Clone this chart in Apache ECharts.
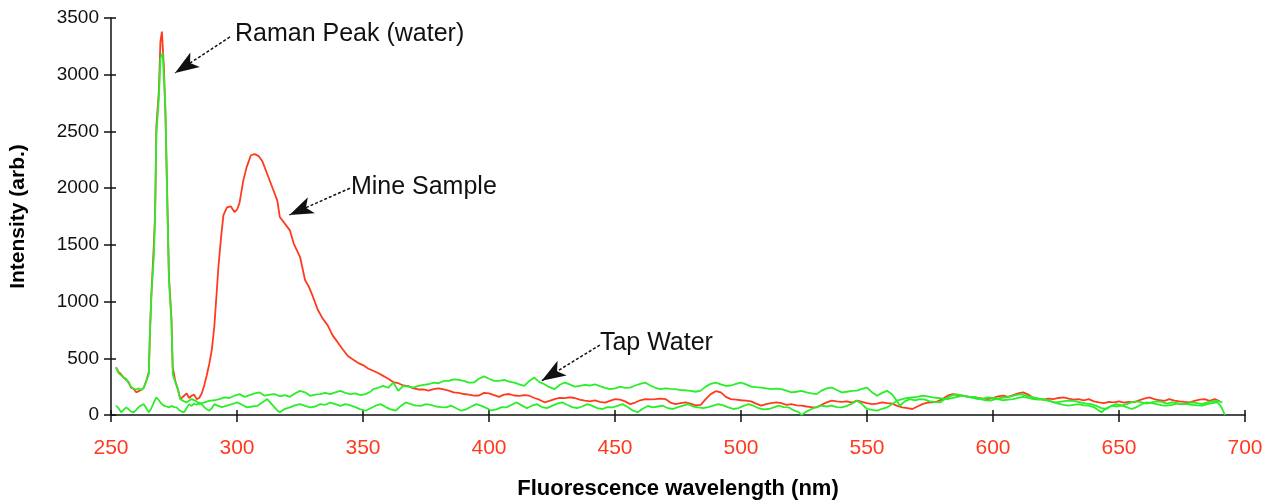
<!DOCTYPE html>
<html>
<head>
<meta charset="utf-8">
<script src="https://cdn.jsdelivr.net/npm/echarts@6/dist/echarts.min.js"></script>
<style>
  html, body { margin: 0; padding: 0; background: #fff; }
  #chart { width: 1271px; height: 502px; }
</style>
</head>
<body>
<div id="chart"></div>
<script>
// axis ticks
const xTicks = [250, 300, 350, 400, 450, 500, 550, 600, 650, 700]
const yTicks = [0, 500, 1000, 1500, 2000, 2500, 3000, 3500]

// mine sample (red)
const mineNm = [252, 253, 254, 255, 256, 257, 258, 259, 260, 261, 262, 263, 264, 265, 265.5, 266, 267, 267.5, 268, 269, 269.6, 270.2, 271, 271.6, 272.3, 273, 274, 274.5, 275.5, 276.5, 277.5, 279, 280, 281, 282, 283, 284, 285, 286, 287, 288, 289, 290, 291, 292, 292.6, 293.7, 294.6, 296, 297.5, 299, 300, 301, 302.5, 303.8, 305.5, 307, 308.5, 310, 312, 314, 316, 317, 319.5, 321, 322.5, 325, 327, 328.5, 330, 332, 334, 336, 338, 340, 342, 344, 346, 348, 350, 352, 354, 356, 358, 360, 362, 364, 366, 368, 370, 372, 374, 376, 378, 380, 382, 384, 386, 388, 390, 392, 394, 396, 398, 400, 402, 404, 406, 408, 410, 412, 414, 416, 418, 420, 422, 424, 426, 428, 430, 432, 434, 436, 438, 440, 442, 444, 446, 448, 450, 452, 454, 456, 458, 460, 462, 464, 466, 468, 470, 472, 474, 476, 478, 480, 482, 484, 486, 488, 490, 492, 494, 496, 498, 500, 502, 504, 506, 508, 510, 512, 514, 516, 518, 520, 522, 524, 526, 528, 530, 532, 534, 536, 538, 540, 542, 544, 546, 548, 550, 552, 554, 556, 558, 560, 562, 564, 566, 568, 570, 572, 574, 576, 578, 580, 582, 584, 586, 588, 590, 592, 594, 596, 598, 600, 602, 604, 606, 608, 610, 612, 614, 616, 618, 620, 622, 624, 626, 628, 630, 632, 634, 636, 638, 640, 642, 644, 646, 648, 650, 652, 654, 656, 658, 660, 662, 664, 666, 668, 670, 672, 674, 676, 678, 680, 682, 684, 686, 688, 690]
const mineVal = [420, 380, 360, 330, 310, 290, 240, 230, 200, 210, 220, 240, 300, 380, 750, 1050, 1500, 1780, 2540, 2860, 3290, 3380, 3060, 2650, 1950, 1220, 850, 420, 300, 230, 140, 170, 190, 150, 170, 180, 140, 150, 190, 260, 350, 450, 575, 780, 1100, 1300, 1570, 1760, 1830, 1840, 1790, 1810, 1870, 2066, 2183, 2290, 2300, 2285, 2240, 2125, 2008, 1890, 1745, 1672, 1628, 1511, 1395, 1190, 1132, 1050, 930, 850, 790, 700, 640, 578, 520, 490, 460, 440, 410, 390, 370, 345, 320, 290, 280, 260, 255, 235, 225, 225, 215, 228, 235, 225, 215, 200, 195, 185, 180, 170, 172, 195, 190, 175, 160, 180, 185, 172, 168, 175, 170, 150, 135, 112, 125, 140, 150, 148, 155, 150, 135, 126, 120, 128, 115, 110, 125, 140, 135, 120, 96, 110, 130, 140, 138, 140, 145, 140, 110, 96, 105, 111, 100, 85, 90, 140, 184, 210, 200, 160, 140, 135, 130, 126, 120, 100, 82, 95, 105, 111, 105, 90, 96, 85, 82, 75, 70, 67, 90, 111, 126, 120, 115, 120, 110, 126, 115, 105, 96, 100, 111, 105, 100, 80, 67, 60, 53, 75, 96, 110, 111, 120, 140, 170, 184, 175, 170, 160, 155, 150, 145, 140, 150, 165, 170, 160, 175, 190, 199, 180, 150, 140, 135, 145, 140, 150, 155, 145, 135, 140, 130, 140, 120, 111, 105, 115, 111, 120, 110, 115, 111, 130, 145, 155, 140, 130, 125, 140, 126, 120, 115, 111, 125, 135, 140, 125, 140, 120]

// tap water (green, with the Raman peak)
const tapNm = [252, 253, 254, 255, 256, 257, 258, 259, 260, 261, 262, 263, 264, 265, 265.5, 266, 267, 267.5, 268, 269, 269.6, 270.5, 271, 271.6, 272.3, 273, 274, 274.5, 275.5, 276.5, 277.5, 279, 280, 282, 284, 285, 287, 289, 291, 293, 295, 297, 299, 301, 303, 305, 307, 309, 311, 313, 315, 317, 319, 321, 323, 325, 327, 329, 331, 333, 335, 337, 339, 341, 343, 345, 347, 349, 351, 353, 354, 356, 358, 360, 362, 364, 366, 368, 370, 372, 374, 376, 378, 380, 382, 384, 386, 388, 390, 392, 394, 396, 398, 400, 402, 404, 406, 408, 410, 412, 414, 416, 418, 420, 422, 424, 426, 428, 430, 432, 434, 436, 438, 440, 442, 444, 446, 448, 450, 452, 454, 456, 458, 460, 462, 464, 466, 468, 470, 472, 474, 476, 478, 480, 482, 484, 486, 488, 490, 492, 494, 496, 498, 500, 502, 504, 506, 508, 510, 512, 514, 516, 518, 520, 522, 524, 526, 528, 530, 532, 534, 536, 538, 540, 542, 544, 546, 548, 550, 552, 554, 556, 558, 560, 562, 563, 565, 567, 569, 571, 573, 575, 577, 579, 581, 583, 585, 587, 589, 591, 593, 595, 597, 599, 601, 603, 605, 607, 609, 611, 613, 615, 617, 619, 621, 623, 625, 627, 629, 631, 633, 635, 637, 639, 641, 643, 645, 647, 649, 651, 653, 655, 657, 659, 661, 663, 665, 667, 669, 671, 673, 675, 677, 679, 681, 683, 685, 687, 689, 690, 691, 692]
const tapVal = [420, 370, 350, 330, 320, 280, 250, 230, 225, 235, 220, 240, 300, 360, 750, 1045, 1400, 1745, 2480, 2796, 3146, 3190, 2970, 2710, 1890, 1190, 815, 360, 290, 230, 140, 120, 111, 140, 120, 96, 111, 125, 130, 140, 155, 150, 170, 184, 160, 175, 190, 199, 170, 180, 184, 165, 175, 160, 190, 213, 200, 169, 180, 184, 195, 184, 200, 213, 195, 184, 190, 175, 184, 205, 228, 240, 257, 240, 286, 213, 257, 250, 242, 257, 265, 271, 286, 280, 300, 301, 315, 310, 300, 286, 286, 320, 340, 320, 301, 300, 310, 295, 286, 270, 257, 300, 330, 290, 271, 245, 228, 265, 286, 270, 250, 257, 265, 260, 271, 255, 240, 228, 235, 250, 240, 242, 260, 275, 286, 260, 240, 228, 235, 230, 228, 220, 218, 213, 205, 215, 250, 275, 286, 270, 257, 260, 275, 286, 270, 250, 245, 242, 235, 228, 232, 228, 215, 199, 205, 213, 200, 190, 184, 215, 235, 242, 220, 199, 205, 213, 215, 230, 242, 200, 170, 195, 213, 180, 120, 82, 120, 140, 130, 140, 135, 120, 115, 111, 140, 165, 184, 175, 165, 155, 160, 140, 130, 126, 140, 150, 155, 165, 175, 184, 170, 160, 150, 140, 130, 120, 111, 118, 125, 126, 120, 110, 100, 96, 80, 60, 53, 80, 96, 85, 70, 53, 70, 95, 111, 105, 95, 85, 82, 90, 100, 96, 95, 90, 85, 82, 95, 105, 111, 90, 53, 0]

// baseline (lower green)
const baseNm = [252, 253, 254, 255, 256, 257, 258, 259, 260, 261, 262, 263, 264, 265, 266, 267, 268, 269, 270, 271, 272, 273, 274, 275, 276, 277, 278, 279, 280, 281, 282, 283, 284, 285, 286, 287, 288, 289, 290, 291, 292, 294, 296, 298, 300, 302, 304, 306, 308, 310, 312, 314, 316, 317, 319, 321, 323, 325, 327, 329, 331, 333, 335, 337, 339, 341, 343, 345, 347, 349, 351, 353, 355, 357, 359, 361, 363, 365, 367, 369, 371, 373, 375, 377, 379, 381, 383, 385, 387, 389, 391, 393, 395, 397, 399, 401, 403, 405, 407, 409, 411, 413, 415, 417, 419, 421, 423, 425, 427, 429, 431, 433, 435, 437, 439, 441, 443, 445, 447, 449, 451, 453, 455, 457, 459, 461, 463, 465, 467, 469, 471, 473, 475, 477, 479, 481, 483, 485, 487, 489, 491, 493, 495, 497, 499, 501, 503, 505, 507, 509, 511, 513, 515, 517, 519, 521, 523, 524, 526, 528, 530, 532, 534, 536, 538, 540, 542, 544, 546, 548, 550, 552, 554, 556, 558, 560, 562, 564, 566, 568, 570, 572, 574, 576, 578, 580, 582, 584, 586, 588, 590, 592, 594, 596, 598, 600, 602, 604, 606, 608, 610, 612, 614, 616, 618, 620, 622, 624, 626, 628, 630, 632, 634, 636, 638, 640, 642, 643, 645, 647, 649, 651, 653, 655, 657, 659, 661, 663, 665, 667, 669, 671, 673, 675, 677, 679, 681, 683, 685, 687, 689, 691]
const baseVal = [82, 60, 24, 45, 67, 50, 30, 24, 45, 70, 85, 96, 60, 24, 60, 110, 155, 130, 100, 82, 75, 67, 80, 70, 67, 45, 30, 24, 60, 96, 80, 100, 90, 111, 95, 70, 50, 38, 60, 96, 85, 70, 82, 95, 111, 90, 67, 75, 80, 110, 140, 90, 40, 24, 55, 67, 85, 96, 80, 67, 75, 96, 90, 110, 96, 80, 96, 85, 70, 50, 38, 60, 82, 96, 70, 50, 38, 80, 111, 95, 82, 80, 96, 90, 75, 70, 67, 82, 60, 38, 50, 75, 96, 80, 60, 40, 50, 70, 67, 90, 111, 85, 60, 82, 96, 70, 60, 80, 100, 111, 90, 70, 60, 75, 96, 80, 60, 53, 70, 67, 80, 96, 70, 40, 24, 55, 80, 67, 75, 82, 60, 53, 70, 82, 96, 75, 67, 60, 70, 82, 96, 85, 67, 53, 60, 80, 96, 82, 60, 50, 53, 67, 82, 70, 67, 40, 24, 0, 30, 53, 70, 82, 75, 82, 70, 67, 80, 100, 126, 96, 53, 45, 38, 55, 67, 96, 126, 140, 150, 155, 160, 170, 165, 155, 150, 145, 140, 150, 160, 170, 165, 150, 140, 145, 155, 150, 140, 130, 135, 140, 150, 160, 150, 140, 135, 140, 130, 111, 100, 90, 82, 90, 96, 85, 82, 70, 40, 24, 60, 82, 75, 82, 96, 111, 120, 111, 100, 111, 120, 115, 100, 111, 105, 95, 100, 111, 105, 96, 111, 120, 125, 111]

// annotations: text anchor and arrow (tail -> tip), in data units
const noteText = ['Raman Peak (water)', 'Mine Sample', 'Tap Water']
const noteAt = [[299.2, 3360], [345.2, 2010], [444, 630]]
const arrowTail = [[297.2, 3333], [344.8, 1999], [444, 617]]
const arrowTip = [[275.4, 3016], [320.8, 1764], [420.9, 302]]

const RED = '#ff3b1f'
const GREEN = '#2bee2b'
const FONT = 'Liberation Sans, Arial, sans-serif'

const zip = (xs, ys) => xs.map((x, i) => [x, ys[i]])

const chart = echarts.init(document.getElementById('chart'))

const lineSeries = (name, xs, ys, color) => ({
  name,
  type: 'line',
  data: zip(xs, ys),
  showSymbol: false,
  symbol: 'none',
  lineStyle: { color, width: 1.8 },
  itemStyle: { color },
  silent: true
})

const tapSeries = lineSeries('Tap Water', tapNm, tapVal, GREEN)
tapSeries.markLine = {
  silent: true,
  symbol: ['none', 'arrow'],
  symbolSize: [13, 24],
  label: { show: false },
  lineStyle: { color: '#111', width: 1.5, type: [3, 2] },
  data: arrowTail.map((t, i) => [{ coord: t }, { coord: arrowTip[i] }])
}
tapSeries.markPoint = {
  silent: true,
  symbol: 'rect',
  symbolSize: 0,
  data: noteText.map((t, i) => ({
    coord: noteAt[i],
    label: {
      show: true,
      formatter: t,
      position: 'right',
      distance: 0,
      color: '#111',
      fontSize: 25,
      fontFamily: FONT
    }
  }))
}

chart.setOption({
  animation: false,
  backgroundColor: '#fff',
  grid: { left: 111, right: 26, top: 18, bottom: 87, outerBoundsMode: 'none', containLabel: false },
  xAxis: [
    {
      type: 'value',
      min: xTicks[0],
      max: xTicks[xTicks.length - 1],
      interval: 50,
      name: 'Fluorescence wavelength (nm)',
      nameLocation: 'middle',
      nameGap: 63,
      nameTextStyle: { color: '#000', fontWeight: 'bold', fontSize: 22, fontFamily: FONT },
      axisLine: { lineStyle: { color: '#111', width: 1.5 } },
      axisTick: { length: 7, lineStyle: { color: '#111', width: 1.5 } },
      axisLabel: { color: RED, fontSize: 21, fontFamily: FONT, margin: 23 },
      splitLine: { show: false }
    },
    {
      type: 'value',
      position: 'bottom',
      min: xTicks[0],
      max: xTicks[xTicks.length - 1],
      interval: 50,
      axisLine: { show: false },
      axisTick: { inside: true, length: 5, lineStyle: { color: '#111', width: 1.5 } },
      axisLabel: { show: false },
      splitLine: { show: false }
    }
  ],
  yAxis: [
    {
      type: 'value',
      min: yTicks[0],
      max: yTicks[yTicks.length - 1],
      interval: 500,
      name: 'Intensity (arb.)',
      nameLocation: 'middle',
      nameGap: 82,
      nameTextStyle: { color: '#000', fontWeight: 'bold', fontSize: 21, fontFamily: FONT },
      axisLine: { show: true, lineStyle: { color: '#111', width: 1.5 } },
      axisTick: { show: true, length: 7, lineStyle: { color: '#111', width: 1.5 } },
      axisLabel: { color: '#111', fontSize: 19, fontFamily: FONT, margin: 12, formatter: v => String(v) },
      splitLine: { show: false }
    },
    {
      type: 'value',
      position: 'left',
      min: yTicks[0],
      max: yTicks[yTicks.length - 1],
      interval: 500,
      axisLine: { show: false },
      axisTick: { show: true, inside: true, length: 5, lineStyle: { color: '#111', width: 1.5 } },
      axisLabel: { show: false },
      splitLine: { show: false }
    }
  ],
  series: [
    lineSeries('Mine Sample', mineNm, mineVal, RED),
    lineSeries('Baseline', baseNm, baseVal, GREEN),
    tapSeries
  ]
})
</script>
</body>
</html>
